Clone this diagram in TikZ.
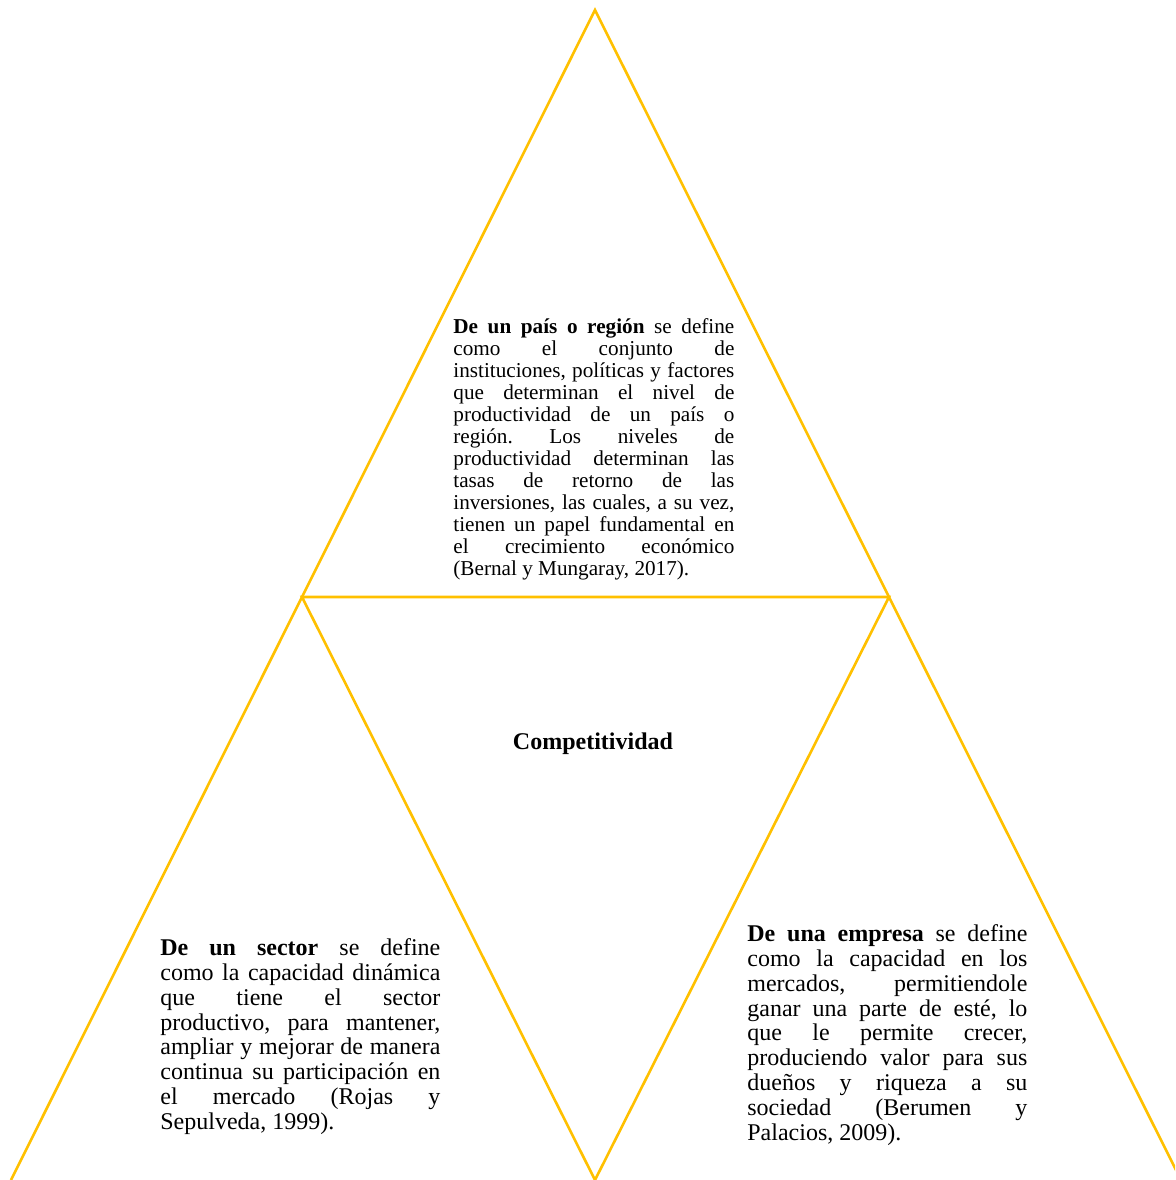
\documentclass[tikz,border=0pt]{standalone}
\usepackage{fontspec}
\setmainfont{Liberation Serif}
\definecolor{gold}{HTML}{FFC000}
\hyphenpenalty=10000
\exhyphenpenalty=10000
\frenchspacing

\begin{document}
\begin{tikzpicture}[x=0.5pt, y=-0.5pt, tri line/.style={draw=gold, line width=1.3pt},
  def text/.style={anchor=north west, inner sep=0pt, text width=140.5pt, align=justify}]
\useasboundingbox (0,0) rectangle (1175,1180);
\clip (0,0) rectangle (1175,1180);
\coordinate (apex) at (595,10);
\coordinate (ml) at (302,597);
\coordinate (mr) at (889,597);
\coordinate (bm) at (595,1180);
\coordinate (bl) at (11,1180);
\coordinate (br) at (1181,1180);
\draw[tri line] (bl) -- (apex) -- (br);
\draw[tri line] (ml) -- (mr) -- (bm) -- cycle;
\node[def text, font=\fontsize{10.6}{11}\selectfont](pais) at (453,318) {\textbf{De un país o región} se define\linebreak como el conjunto de\linebreak instituciones, políticas y factores\linebreak que determinan el nivel de\linebreak productividad de un país o\linebreak región. Los niveles de\linebreak productividad determinan las\linebreak tasas de retorno de las\linebreak inversiones, las cuales, a su vez,\linebreak tienen un papel fundamental en\linebreak el crecimiento económico\linebreak (Bernal y Mungaray, 2017).};
\node[font=\fontsize{12}{13}\selectfont\bfseries](comp) at (593,744) {Competitividad};
\node[def text, text width=140pt, font=\fontsize{12}{12.45}\selectfont](sector) at (160,938) {\textbf{De un sector} se define\linebreak como la capacidad dinámica\linebreak que tiene el sector\linebreak productivo, para mantener,\linebreak ampliar y mejorar de manera\linebreak continua su participación en\linebreak el mercado (Rojas y\linebreak Sepulveda, 1999).};
\node[def text, text width=140pt, font=\fontsize{12}{12.45}\selectfont](empresa) at (747,924) {\textbf{De una empresa} se define\linebreak como la capacidad en los\linebreak mercados, permitiendole\linebreak ganar una parte de esté, lo\linebreak que le permite crecer,\linebreak produciendo valor para sus\linebreak dueños y riqueza a su\linebreak sociedad (Berumen y\linebreak Palacios, 2009).};
\end{tikzpicture}
\end{document}
